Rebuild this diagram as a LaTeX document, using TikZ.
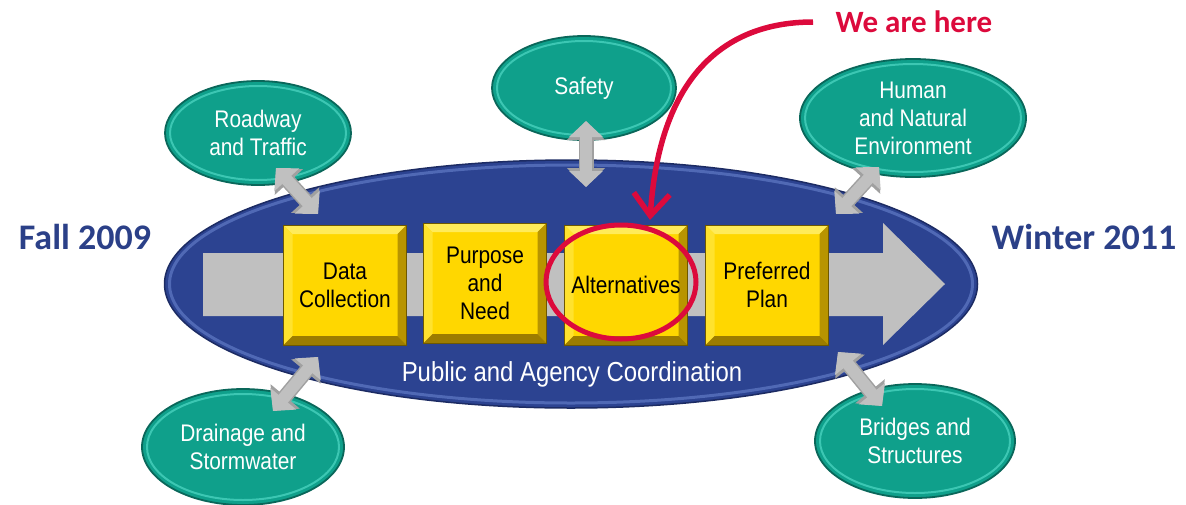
\documentclass[tikz,border=0pt]{standalone}
\usepackage{fontspec}
\setmainfont{Liberation Sans}
\newfontfamily\narrow[FakeStretch=0.87]{Liberation Sans}
\newfontfamily\cali{Carlito}
\usetikzlibrary{arrows.meta,calc,shapes.geometric}
\definecolor{bigblue}{HTML}{2C4391}
\definecolor{bigrim}{HTML}{1C2B63}
\definecolor{bighi}{HTML}{5069B5}
\definecolor{tealf}{HTML}{0FA08B}
\definecolor{tealrim}{HTML}{0A675A}
\definecolor{tealhi}{HTML}{3CC7B3}
\definecolor{boxfill}{HTML}{FFD700}
\definecolor{ytop}{HTML}{FFEB5A}
\definecolor{yleft}{HTML}{FFE22E}
\definecolor{yright}{HTML}{B89400}
\definecolor{ybot}{HTML}{9C7C00}
\definecolor{yedge}{HTML}{6E5800}
\definecolor{arrgray}{HTML}{C0C0C0}
\definecolor{arredge}{HTML}{A0A0A0}
\definecolor{datecol}{HTML}{2B4088}
\definecolor{herered}{HTML}{DC0A3C}
\tikzset{
  ring/.style n args={3}{path picture={
    \path let \p1=($(path picture bounding box.north east)-(path picture bounding box.center)$) in
      [draw=#1, line width=#2] (path picture bounding box.center) ellipse [x radius=\x1-#3, y radius=\y1-#3];}},
  topic/.style={ellipse, inner sep=0, fill=tealf, draw=tealrim, line width=1.8pt,
    ring={tealhi}{2pt}{5pt}, text=white, align=center,
    font=\narrow\fontsize{24}{28}\selectfont},
  stepbox/.style={rectangle, minimum width=123pt, minimum height=120pt, inner sep=0,
    fill=boxfill, draw=yedge, line width=0.8pt, align=center,
    font=\narrow\fontsize{24}{28}\selectfont,
    path picture={
      \coordinate (nw) at (path picture bounding box.north west);
      \coordinate (ne) at (path picture bounding box.north east);
      \coordinate (sw) at (path picture bounding box.south west);
      \coordinate (se) at (path picture bounding box.south east);
      \fill[ytop] (nw) -- (ne) -- ($(ne)+(-9pt,-9pt)$) -- ($(nw)+(9pt,-9pt)$) -- cycle;
      \fill[yleft] (nw) -- (sw) -- ($(sw)+(9pt,9pt)$) -- ($(nw)+(9pt,-9pt)$) -- cycle;
      \fill[yright] (ne) -- (se) -- ($(se)+(-9pt,9pt)$) -- ($(ne)+(-9pt,-9pt)$) -- cycle;
      \fill[ybot] (sw) -- (se) -- ($(se)+(-9pt,9pt)$) -- ($(sw)+(9pt,9pt)$) -- cycle;
    }},
  darrowbg/.style={draw=arredge, line width=15pt,
    arrows={Triangle[length=19pt,width=37pt]-Triangle[length=19pt,width=37pt]}},
  darrow/.style={draw=arrgray, line width=12pt,
    arrows={Triangle[length=16pt,width=33pt]-Triangle[length=16pt,width=33pt]}},
  datetext/.style={text=datecol, font=\cali\bfseries\fontsize{36}{40}\selectfont},
}
\begin{document}
\begin{tikzpicture}[x=1pt,y=-1pt]
\useasboundingbox (0,0) rectangle (1186,504);
% central ellipse
\node[ellipse, minimum width=813pt, minimum height=248pt, inner sep=0, fill=bigblue,
  draw=bigrim, line width=1.5pt, ring={bighi}{3pt}{5pt}] (plan) at (571,284) {};
% big gray arrow
\fill[arrgray] (203,253) -- (883,253) -- (883,223) -- (945,284) -- (883,345) -- (883,316) -- (203,316) -- cycle;
% step boxes
\node[stepbox] (b1) at (345,285) {Data\\Collection};
\node[stepbox] (b2) at (485,283) {Purpose\\and\\Need};
\node[stepbox] (b3) at (626,285) {Alternatives};
\node[stepbox] (b4) at (767,285) {Preferred\\Plan};
\node[text=white, font=\narrow\fontsize{27.5}{32}\selectfont] (pac) at (572,374) {Public and Agency Coordination};
% dates
\node[datetext] (fall) at (85,237) {Fall 2009};
\node[datetext] (winter) at (1084,237) {Winter 2011};
% topic ellipses
\node[topic, minimum width=186pt, minimum height=104pt] (t1) at (258,133) {Roadway\\and Traffic};
\node[topic, minimum width=184pt, minimum height=104pt] (t2) at (584,88) {Safety};
\node[topic, minimum width=226pt, minimum height=118pt] (t3) at (913,118) {Human\\and Natural\\Environment};
\node[topic, minimum width=202pt, minimum height=116pt] (t4) at (243,447) {Drainage and\\Stormwater};
\node[topic, minimum width=200pt, minimum height=114pt] (t5) at (915,441) {Bridges and\\Structures};
% double arrow ends
\coordinate (a1s) at (276,168); \coordinate (a1e) at (318,214);
\coordinate (a2s) at (586,121); \coordinate (a2e) at (586,187);
\coordinate (a3s) at (879,167); \coordinate (a3e) at (836,214);
\coordinate (a4s) at (318,357); \coordinate (a4e) at (273,411);
\coordinate (a5s) at (838,352); \coordinate (a5e) at (882,406);
\foreach \i in {1,...,5}{\draw[darrowbg] (a\i s) -- (a\i e);}
\foreach \i in {1,...,5}{\draw[darrow] (a\i s) -- (a\i e);}
% we are here
\node[ellipse, draw=herered, line width=5pt, minimum width=150pt, minimum height=114pt, inner sep=0] (here) at (621,282) {};
\node[text=herered, font=\cali\bfseries\fontsize{31}{34}\selectfont] (wah) at (914,22) {We are here};
\coordinate (hstart) at (813,22);
\coordinate (htip) at (650,220);
\draw[herered, line width=5.5pt, -{Straight Barb[length=22pt,width=36pt]}]
  (hstart) .. controls (730,22) and (660,70) .. (htip);
\end{tikzpicture}
\end{document}
